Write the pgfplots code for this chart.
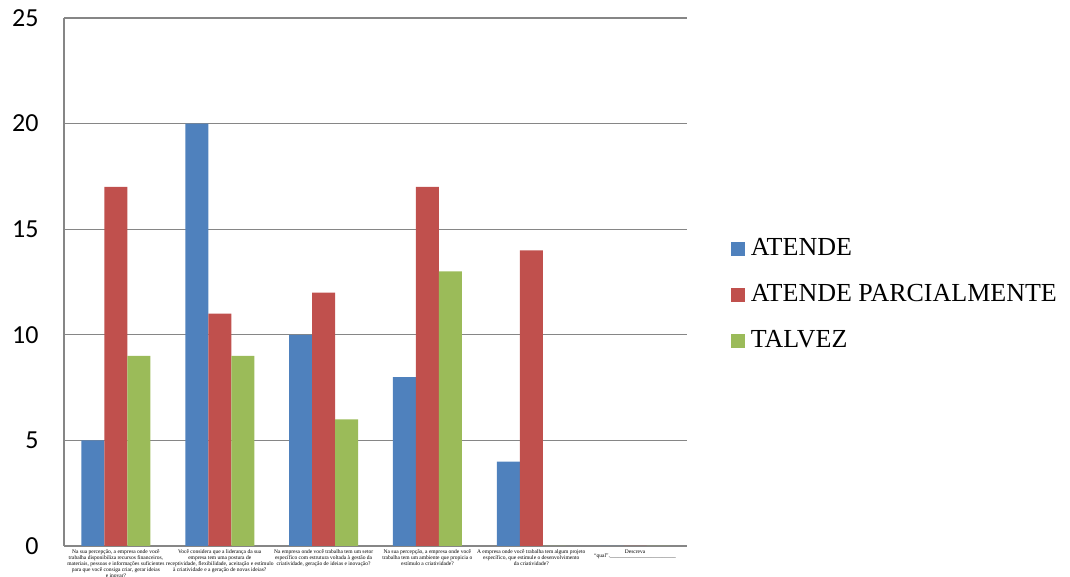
\documentclass[border=0pt]{standalone}
\usepackage{pgfplots}
\pgfplotsset{compat=1.18}
\usepackage{fontspec}
\setmainfont{Liberation Serif}
\newfontfamily\timesf{Liberation Serif}
\newfontfamily\calib{Carlito}
\definecolor{cblue}{HTML}{4F81BD}
\definecolor{cred}{HTML}{C0504D}
\definecolor{cgreen}{HTML}{9BBB59}
\definecolor{cgrid}{HTML}{868686}
\begin{document}
\begin{tikzpicture}
\useasboundingbox (0,0) rectangle (1070pt,577pt);
\begin{axis}[
  at={(64pt,31pt)}, anchor=south west,
  scale only axis, width=623pt, height=528pt,
  ybar=0pt, bar width=23pt,
  xmin=-0.5, xmax=5.5, ymin=0, ymax=25,
  xtick={0,1,2,3,4,5},
  xticklabels={
    {Na sua percepção, a empresa onde você\\trabalha disponibiliza recursos financeiros,\\materiais, pessoas e informações suficientes\\para que você consiga criar, gerar ideias\\e inovar?},
    {Você considera que a liderança da sua\\empresa tem uma postura de\\receptividade, flexibilidade, aceitação e estímulo\\à criatividade e a geração de novas ideias?},
    {Na empresa onde você trabalha tem um setor\\específico com estrutura voltada à gestão da\\criatividade, geração de ideias e inovação?},
    {Na sua percepção, a empresa onde você\\trabalha tem um ambiente que propicia o\\estímulo a criatividade?},
    {A empresa onde você trabalha tem algum projeto\\específico, que estimule o desenvolvimento\\da criatividade?},
    {Descreva\\“qual”.\_\_\_\_\_\_\_\_\_\_\_\_\_\_\_\_\_\_\_\_\_\_\_\_}},
  xticklabel style={font=\timesf\fontsize{5.5}{4.3}\selectfont, align=center, anchor=north, yshift=0pt},
  ytick={0,5,10,15,20,25},
  yticklabel style={font=\calib\fontsize{26}{26}\selectfont, xshift=-22pt, /pgf/number format/assume math mode=true},
  major tick length=0pt,
  ymajorgrids, grid style={cgrid, line width=1.2pt},
  axis x line*=bottom, axis y line*=left,
  axis line style={cgrid, line width=1.2pt, -},
  legend style={draw=none, at={(1.07,0.475)}, anchor=west, inner sep=0pt,
    font=\timesf\fontsize{26}{26}\selectfont,
    nodes={inner sep=0pt, text height=18pt, text depth=5pt, anchor=west},
    row sep=23pt, column sep=6pt},
  legend cell align=left,
  legend image code/.code={\fill[#1] (0pt,-7pt) rectangle (14pt,7pt);},
]
\addplot[fill=cblue, draw=none] coordinates {(0,5) (1,20) (2,10) (3,8) (4,4) (5,0)};
\addplot[fill=cred, draw=none] coordinates {(0,17) (1,11) (2,12) (3,17) (4,14) (5,0)};
\addplot[fill=cgreen, draw=none] coordinates {(0,9) (1,9) (2,6) (3,13) (4,0) (5,0)};
\legend{ATENDE, ATENDE PARCIALMENTE, TALVEZ}
\end{axis}
\end{tikzpicture}
\end{document}
